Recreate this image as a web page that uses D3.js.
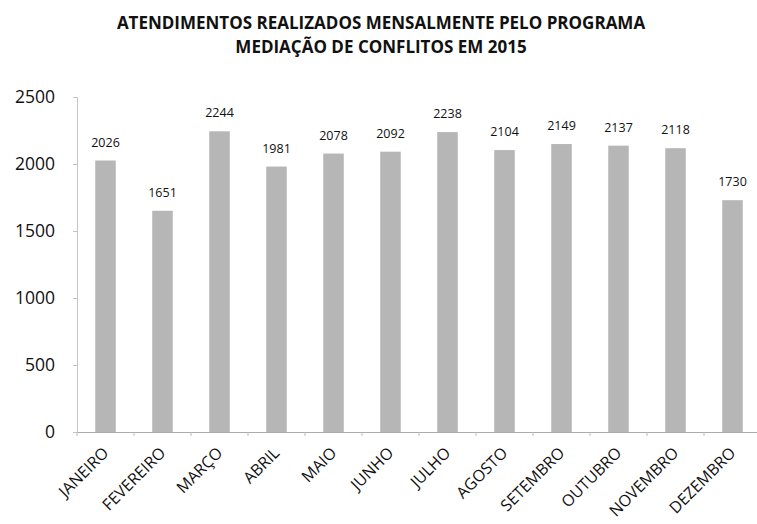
<!DOCTYPE html>
<html>
<head>
<meta charset="utf-8">
<script src="https://cdn.jsdelivr.net/npm/d3@7"></script>
<style>
  body { margin: 0; background: #fff; }
  text { font-family: "Open Sans", "Liberation Sans", sans-serif; }
</style>
</head>
<body>
<script>
// Dados
const months = ['JANEIRO', 'FEVEREIRO', 'MARÇO', 'ABRIL', 'MAIO', 'JUNHO',
    'JULHO', 'AGOSTO', 'SETEMBRO', 'OUTUBRO', 'NOVEMBRO', 'DEZEMBRO'];
const atendimentos = [2026, 1651, 2244, 1981, 2078, 2092, 2238, 2104, 2149, 2137, 2118, 1730];
const yTicks = [0, 500, 1000, 1500, 2000, 2500];
const titleLines = ['ATENDIMENTOS REALIZADOS MENSALMENTE PELO PROGRAMA',
    'MEDIAÇÃO DE CONFLITOS EM 2015'];

let width = 757, height = 524;
let margin = { top: 97, bottom: 92, left: 77, right: 0 };

let svg = d3.select('body')
    .append('svg')
    .attr('width', width)
    .attr('height', height);

// Title
svg.append('g')
    .selectAll('text')
    .data(titleLines)
    .enter()
    .append('text')
    .attr('x', 381)
    .attr('y', (d, i) => 29 + i * 24)
    .attr('text-anchor', 'middle')
    .style('font-size', '17px')
    .style('font-weight', 'bold')
    .style('fill', '#111')
    .text(d => d);

// Scales
let yScale = d3.scaleLinear()
    .domain([0, 2500])
    .range([height - margin.bottom, margin.top]);

let xScale = d3.scaleBand()
    .domain(months)
    .range([margin.left, margin.left + 12 * 57])
    .paddingInner(0.64)
    .paddingOuter(0.32);

// Y axis
let yAxis = svg.append('g')
    .attr('transform', `translate(${margin.left},0)`)
    .call(d3.axisLeft(yScale).tickValues(yTicks).tickFormat(d3.format('d')).tickSize(4).tickPadding(18));
yAxis.select('.domain').attr('stroke', '#c4c4c4');
yAxis.selectAll('.tick line').attr('stroke', '#c4c4c4');
yAxis.selectAll('.tick text')
    .style('font-size', '17.5px')
    .style('fill', '#111');

// X axis
let xAxis = svg.append('g')
    .attr('transform', `translate(0,${height - margin.bottom})`)
    .call(d3.axisBottom(xScale).tickSize(0).tickSizeOuter(0));
xAxis.select('.domain').attr('stroke', '#aaa');
xAxis.selectAll('.tick text')
    .style('font-size', '16px')
    .style('fill', '#111')
    .attr('text-anchor', 'end')
    .attr('x', 0)
    .attr('y', 0)
    .attr('dy', 0)
    .attr('transform', 'translate(4,22) rotate(-45)');

// Ticks between categories
let step = xScale.step();
svg.append('g')
    .selectAll('line')
    .data(d3.range(months.length + 1))
    .enter()
    .append('line')
    .attr('x1', i => margin.left + i * step)
    .attr('x2', i => margin.left + i * step)
    .attr('y1', height - margin.bottom)
    .attr('y2', height - margin.bottom + 4)
    .attr('stroke', '#bbb');

// Bars
svg.append('g')
    .selectAll('rect')
    .data(atendimentos)
    .enter()
    .append('rect')
    .attr('x', (d, i) => xScale(months[i]))
    .attr('y', d => yScale(d))
    .attr('width', xScale.bandwidth())
    .attr('height', d => yScale(0) - yScale(d))
    .attr('fill', '#b6b6b6');

// Value labels
svg.append('g')
    .selectAll('text')
    .data(atendimentos)
    .enter()
    .append('text')
    .attr('x', (d, i) => xScale(months[i]) + xScale.bandwidth() / 2)
    .attr('y', d => yScale(d) - 14)
    .attr('text-anchor', 'middle')
    .style('font-size', '12.5px')
    .style('fill', '#111')
    .text(d => d);
</script>
</body>
</html>
